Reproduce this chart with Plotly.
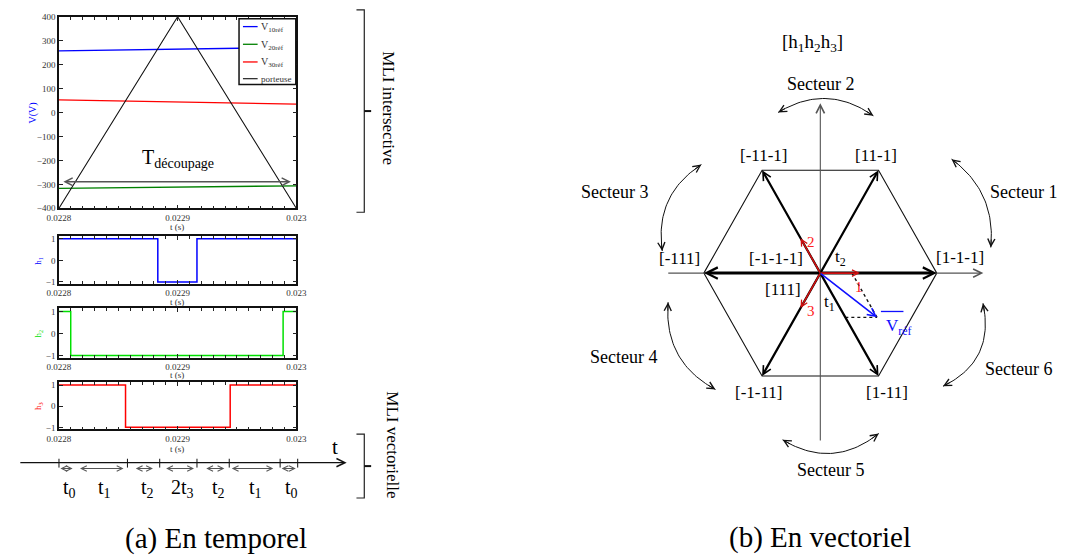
import numpy as np
import plotly.graph_objects as go

W, H = 1074, 559
SERIF = "Liberation Serif, Times New Roman, serif"

# ---------------- time-domain signals ----------------
t_start, t_end = 0.0228, 0.0230
x_tickvals = [0.0228, 0.0229, 0.0230]
x_ticktext = ["0.0228", "0.0229", "0.023"]

carrier_t = [0.0228, 0.0229, 0.0230]
carrier_v = [-400, 400, -400]

ref_t = [0.0228, 0.0230]
v1_ref = [258, 272]
v2_ref = [-317, -306]
v3_ref = [53, 35]

period_level = -289
period_span = [0.0228033, 0.0229955]

# switching functions (value held until next instant)
h1_t = [0.0228, 0.0228833, 0.0229163, 0.0230]
h1_v = [1, -1, 1, 1]
h2_t = [0.0228, 0.0228099, 0.0229889, 0.0230]
h2_v = [1, -1, 1, 1]
h3_t = [0.0228, 0.0228561, 0.0229443, 0.0230]
h3_v = [1, -1, 1, 1]

# sequence of applied vectors over one switching period
seq_ticks = [0.0228, 0.0228577, 0.0228849, 0.0229163, 0.0229435, 0.0229864, 0.0230012]
seq_start = [0.0228008, 0.0228173, 0.0228643, 0.0228899, 0.0229237, 0.0229452, 0.0229872]
seq_end = [0.0228115, 0.0228544, 0.0228792, 0.0229138, 0.0229394, 0.0229806, 0.0229996]
seq_labels = ["t<sub>0</sub>", "t<sub>1</sub>", "t<sub>2</sub>", "2t<sub>3</sub>",
              "t<sub>2</sub>", "t<sub>1</sub>", "t<sub>0</sub>"]

# ---------------- space-vector hexagon ----------------
hex_angles = [0, 60, 120, 180, 240, 300]
hex_labels = ["[1-1-1]", "[11-1]", "[-11-1]", "[-111]", "[-1-11]", "[1-11]"]
sector_names = ["Secteur 1", "Secteur 2", "Secteur 3", "Secteur 4", "Secteur 5", "Secteur 6"]
sector_mid_angle = [24.4, 88, 155.2, 209, 273.7, -26.2]
phase_angles = [0, 120, 240]
phase_labels = ["1", "2", "3"]
phase_len = 0.34
vref_parts = [0.272, 0.43]   # along 0 deg and along -60 deg

fig = go.Figure()


def pxx(x):
    return x / W


def pxy(y):
    return 1 - y / H


# ---------- axes layout ----------
PLOT_L, PLOT_R = 48, 290.5
t_per_px = (t_end - t_start) / (PLOT_R - PLOT_L)


def t_at(px):
    return t_start + (px - PLOT_L) * t_per_px


tick_font = dict(family=SERIF, size=9, color="#333")


def time_xaxis(anchor):
    return dict(domain=[pxx(PLOT_L), pxx(PLOT_R)], range=[t_start, t_end], anchor=anchor,
                tickvals=x_tickvals, ticktext=x_ticktext, ticks="inside", ticklen=4,
                tickcolor="#222", showline=True, linecolor="#111", linewidth=1.5,
                mirror="allticks", showgrid=False, zeroline=False, tickfont=tick_font,
                minor=dict(dtick=0.00001, tick0=0.0228, ticks="inside", ticklen=3,
                           tickcolor="#222", showgrid=False))


def yaxis_box(anchor, top, bottom, rng, tv):
    return dict(domain=[pxy(bottom), pxy(top)], range=rng, anchor=anchor, tickvals=tv,
                ticks="inside", ticklen=4, tickcolor="#222", showline=True, linecolor="#111",
                linewidth=1.5, mirror="allticks", showgrid=False, zeroline=False,
                tickfont=tick_font)


h_range = [-1.09, 1.14]
layout_axes = dict(
    xaxis=time_xaxis("y"),
    yaxis=yaxis_box("x", 12, 207, [-400, 400], list(range(-400, 401, 100))),
    xaxis2=time_xaxis("y2"),
    yaxis2=yaxis_box("x2", 235, 284, h_range, [-1, 0, 1]),
    xaxis3=time_xaxis("y3"),
    yaxis3=yaxis_box("x3", 309, 359, h_range, [-1, 0, 1]),
    xaxis4=time_xaxis("y4"),
    yaxis4=yaxis_box("x4", 384, 432, h_range, [-1, 0, 1]),
    # time line: 20 px per unit, line at 466 px
    xaxis5=dict(domain=[0, pxx(350)], range=[t_at(0), t_at(350)], anchor="y5", visible=False),
    yaxis5=dict(domain=[pxy(505), pxy(440)], range=[-1.95, 1.3], anchor="x5", visible=False),
)

# hexagon axes: 1 unit = vertex radius
UX, UY, CX, CY = 119.0, 121.0, 826.0, 273.0
layout_axes["xaxis6"] = dict(domain=[pxx(570), 1], range=[(570 - CX) / UX, (W - CX) / UX],
                             anchor="y6", visible=False)
layout_axes["yaxis6"] = dict(domain=[0, 1], range=[(CY - H) / UY, CY / UY],
                             anchor="x6", visible=False)

# ---------- top plot: references and carrier ----------
fig.add_trace(go.Scatter(x=ref_t, y=v1_ref, mode="lines", line=dict(color="#0000ff", width=1.3),
                         xaxis="x", yaxis="y"))
fig.add_trace(go.Scatter(x=ref_t, y=v2_ref, mode="lines", line=dict(color="#008000", width=1.3),
                         xaxis="x", yaxis="y"))
fig.add_trace(go.Scatter(x=ref_t, y=v3_ref, mode="lines", line=dict(color="#ff0000", width=1.3),
                         xaxis="x", yaxis="y"))
fig.add_trace(go.Scatter(x=carrier_t, y=carrier_v, mode="lines", line=dict(color="#111", width=1.1),
                         xaxis="x", yaxis="y"))

# ---------- switching functions ----------
for (tt, vv, col, ax) in [(h1_t, h1_v, "#0000ff", "2"), (h2_t, h2_v, "#00e000", "3"),
                          (h3_t, h3_v, "#ff0000", "4")]:
    fig.add_trace(go.Scatter(x=tt, y=vv, mode="lines", line=dict(color=col, width=1.5, shape="hv"),
                             xaxis="x" + ax, yaxis="y" + ax))


def arrow(x0, y0, x1, y1, ref, color="black", width=1.0, size=1.0, head=5, both=False):
    xr, yr = ref
    d = dict(x=x1, y=y1, ax=x0, ay=y0, xref=xr, yref=yr, axref=xr, ayref=yr,
             showarrow=True, text="", font=dict(size=1), borderpad=0,
             arrowhead=head, arrowsize=size, arrowwidth=width, arrowcolor=color,
             standoff=0, startstandoff=0)
    if both:
        d.update(arrowside="end+start", startarrowhead=head, startarrowsize=size)
    fig.add_annotation(**d)


def text(x, y, s, xref="paper", yref="paper", size=17, color="black",
         xanchor="center", yanchor="middle", **kw):
    fig.add_annotation(x=x, y=y, xref=xref, yref=yref, text=s, showarrow=False,
                       xanchor=xanchor, yanchor=yanchor,
                       font=dict(family=SERIF, size=size, color=color), **kw)


# switching period arrow
arrow(period_span[0], period_level, period_span[1], period_level, ("x", "y"),
      color="#555", width=1.5, size=1.0, both=True)
text(t_at(170), -190, "T<sub>découpage</sub>", "x", "y", size=20)

# legend box
shapes = []
shapes.append(dict(type="rect", xref="paper", yref="paper", x0=pxx(232), x1=pxx(290),
                   y0=pxy(81), y1=pxy(14), line=dict(color="#111", width=1.5),
                   fillcolor="white", layer="above"))
leg = [("#0000ff", "V<sub>10réf</sub>", 22), ("#008000", "V<sub>20réf</sub>", 40),
       ("#ff0000", "V<sub>30réf</sub>", 58), ("#333", "porteuse", 75)]
for col, lab, yy in leg:
    shapes.append(dict(type="line", xref="paper", yref="paper", x0=pxx(236), x1=pxx(251),
                       y0=pxy(yy), y1=pxy(yy), line=dict(color=col, width=1.3), layer="above"))
    if lab == "porteuse":
        text(pxx(252), pxy(yy), lab, size=9, color="#333", xanchor="left")
    else:
        text(pxx(252), pxy(yy + 1), lab, size=10, color="#333", xanchor="left")

# axis captions of the left panel
text(pxx(22), pxy(110), "V(V)", size=10, color="#0000ff", textangle=-90)
for yy, lab, col in [(260, "h<sub>1</sub>", "#0000ff"), (334, "h<sub>2</sub>", "#00e000"),
                     (408, "h<sub>3</sub>", "#ff0000")]:
    text(pxx(27), pxy(yy), lab, size=9, color=col, textangle=-90)
for yy in [226, 302, 377, 452]:
    text(pxx(169), pxy(yy), "t (s)", size=9, color="#333")

# ---------- time line of the vector sequence ----------
arrow(t_at(8), 0, t_at(342), 0, ("x5", "y5"), color="#111", width=1.1, size=1.5)
for tk in seq_ticks:
    fig.add_trace(go.Scatter(x=[tk, tk], y=[0.2, -0.25], mode="lines",
                             line=dict(color="#111", width=1), xaxis="x5", yaxis="y5"))
for a, b, lab in zip(seq_start, seq_end, seq_labels):
    arrow(a, -0.3, b, -0.3, ("x5", "y5"), color="#555", width=1.1, size=1.0, both=True)
    text((a + b) / 2, -1.3, lab, "x5", "y5", size=20, xshift=3)
text(t_at(330), 0.8, "t", "x5", "y5", size=21)


# braces on the right of the left panel
def brace(top, bottom):
    mid = (top + bottom) / 2
    shapes.append(dict(type="path", xref="paper", yref="paper",
                       path=f"M {pxx(352)} {pxy(top)} L {pxx(360)} {pxy(top)} "
                            f"L {pxx(360)} {pxy(bottom)} L {pxx(352)} {pxy(bottom)}",
                       line=dict(color="#222", width=1.2)))
    shapes.append(dict(type="line", xref="paper", yref="paper", x0=pxx(360), x1=pxx(367),
                       y0=pxy(mid), y1=pxy(mid), line=dict(color="#111", width=2)))


brace(5, 211)
brace(437, 502)
text(pxx(385), pxy(105), "MLI intersective", size=17, textangle=90)
text(pxx(388), pxy(448), "MLI vectorielle", size=17, textangle=90)

text(pxx(208), pxy(543), "(a) En temporel", size=29)
text(pxx(826), pxy(542), "(b) En vectoriel", size=29)

# ---------- hexagon ----------
HX = ("x6", "y6")
ang = np.radians(hex_angles)
vx = np.cos(ang)
vy = np.sin(ang)

# reference axes
arrow(-1.31, 0, 1.40, 0, HX, color="#555", width=1.1, size=1.5)
arrow(0, -1.413, 0, 1.43, HX, color="#555", width=1.1, size=1.5)

# hexagon outline
fig.add_trace(go.Scatter(x=list(vx) + [vx[0]], y=list(vy) + [vy[0]], mode="lines",
                         line=dict(color="#111", width=1.1), xaxis="x6", yaxis="y6"))

# active vectors
for i in range(6):
    w = 3 if hex_angles[i] in (0, 180) else 2.2
    arrow(0, 0, vx[i], vy[i], HX, color="#000", width=w, size=0.75)

label_shift = [(23, 16), (-3, 15), (2, 15), (-24, 15), (-3, -16), (8, -16)]
for i, lab in enumerate(hex_labels):
    sx, sy = label_shift[i]
    text(vx[i], vy[i], lab, "x6", "y6", size=17, xshift=sx, yshift=sy)

text(-0.378, 0.124, "[-1-1-1]", "x6", "y6", size=17)
text(-0.319, -0.140, "[111]", "x6", "y6", size=17)
text(-0.067, 1.934, "[h<sub>1</sub>h<sub>2</sub>h<sub>3</sub>]", "x6", "y6", size=19)

# sector labels
sector_pos = [(1.748, 0.686), (0.0, 1.595), (-1.765, 0.686), (-1.689, -0.702),
              (0.084, -1.653), (1.706, -0.810)]
for name, (sx, sy) in zip(sector_names, sector_pos):
    text(sx, sy, name, "x6", "y6", size=18)

# curved double arrows between sectors
arc_geom = [(16, 1.48, 1.54), (17, 1.40, 1.47), (17, 1.37, 1.44), (18.4, 1.33, 1.40),
            (16.7, 1.44, 1.52), (15.9, 1.42, 1.52)]
for th, (half, re_, rm) in zip(sector_mid_angle, arc_geom):
    a0, a2, am = np.radians(th - half), np.radians(th + half), np.radians(th)
    P0 = np.array([re_ * np.cos(a0), re_ * np.sin(a0)])
    P2 = np.array([re_ * np.cos(a2), re_ * np.sin(a2)])
    M = np.array([rm * np.cos(am), rm * np.sin(am)])
    P1 = 2 * M - 0.5 * (P0 + P2)
    s = np.linspace(0, 1, 40)[:, None]
    B = (1 - s) ** 2 * P0 + 2 * (1 - s) * s * P1 + s ** 2 * P2
    fig.add_trace(go.Scatter(x=B[:, 0], y=B[:, 1], mode="lines",
                             line=dict(color="#111", width=1), xaxis="x6", yaxis="y6"))
    arrow(B[3, 0], B[3, 1], P0[0], P0[1], HX, color="#111", width=1, size=1.4)
    arrow(B[-4, 0], B[-4, 1], P2[0], P2[1], HX, color="#111", width=1, size=1.4)

# phase unit vectors
for a, lab in zip(phase_angles, phase_labels):
    r = np.radians(a)
    arrow(0, 0, phase_len * np.cos(r), phase_len * np.sin(r), HX, color="#d01010",
          width=1.6, size=0.8)
text(0.328, -0.116, "1", "x6", "y6", size=15, color="#ff2020")
text(-0.076, 0.264, "2", "x6", "y6", size=15, color="#ff2020")
text(-0.084, -0.322, "3", "x6", "y6", size=15, color="#ff2020")

# reference vector and its decomposition
e0 = np.array([1.0, 0.0])
e1 = np.array([np.cos(np.radians(-60)), np.sin(np.radians(-60))])
pa = vref_parts[0] * e0
pb = vref_parts[1] * e1
tip = pa + pb
for p in (pa, pb):
    fig.add_trace(go.Scatter(x=[p[0], tip[0]], y=[p[1], tip[1]], mode="lines",
                             line=dict(color="#111", width=1.4, dash="dot"),
                             xaxis="x6", yaxis="y6"))
arrow(0, 0, tip[0], tip[1], HX, color="#1010ff", width=1.6, size=1.0)
text(tip[0], tip[1], "V<sub>réf</sub>", "x6", "y6", size=17, color="#1010ff",
     xanchor="left", yanchor="top", xshift=7, yshift=3)
shapes.append(dict(type="line", xref="x6", yref="y6", x0=tip[0] + 4 / UX, x1=tip[0] + 27 / UX,
                   y0=tip[1] + 6 / UY, y1=tip[1] + 6 / UY, line=dict(color="#1010ff", width=1.3)))

text(0.176, 0.124, "t<sub>2</sub>", "x6", "y6", size=17)
text(0.076, -0.248, "t<sub>1</sub>", "x6", "y6", size=17)

fig.update_layout(width=W, height=H, margin=dict(l=0, r=0, t=0, b=0),
                  paper_bgcolor="white", plot_bgcolor="white", showlegend=False,
                  shapes=shapes, **layout_axes)
fig.write_html("out.html")
